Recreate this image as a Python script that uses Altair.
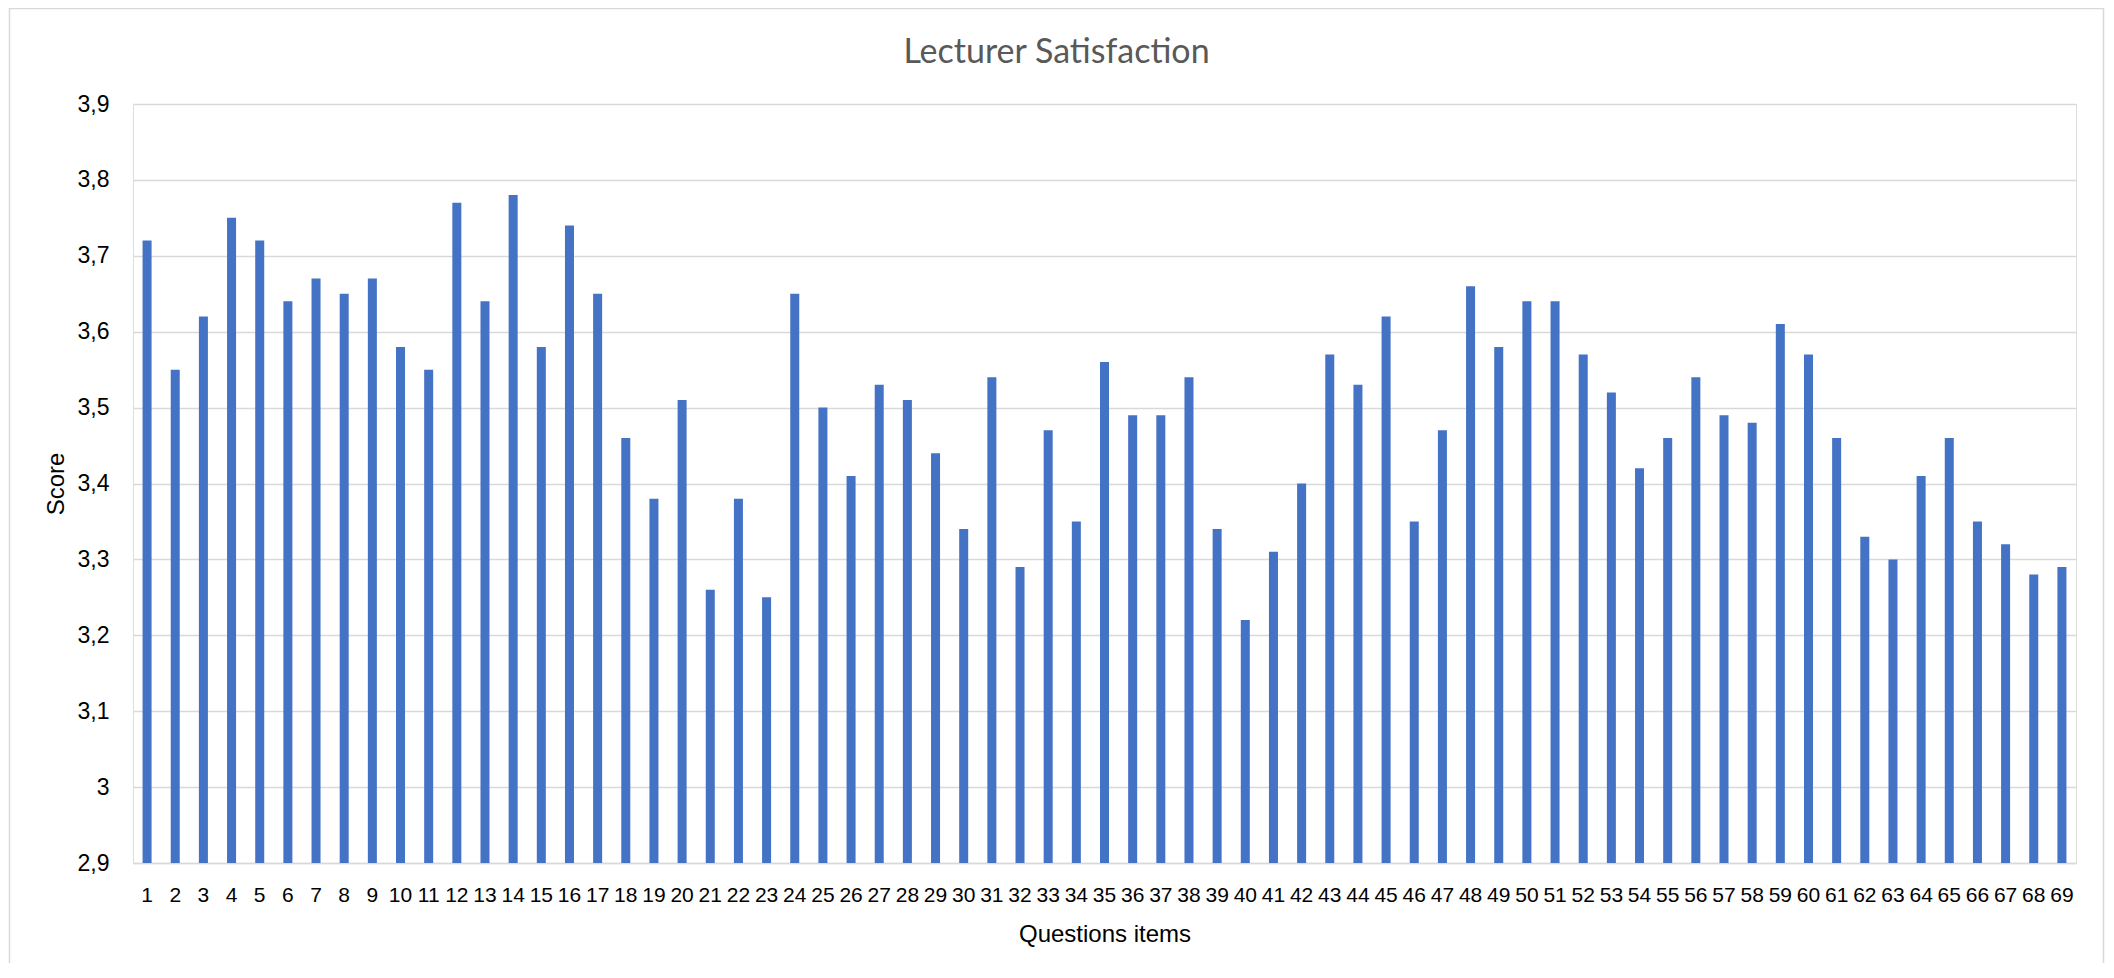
import altair as alt
import pandas as pd

# Question item numbers and their satisfaction scores
items = list(range(1, 70))
scores = [3.72, 3.55, 3.62, 3.75, 3.72, 3.64, 3.67, 3.65, 3.67, 3.58,
          3.55, 3.77, 3.64, 3.78, 3.58, 3.74, 3.65, 3.46, 3.38, 3.51,
          3.26, 3.38, 3.25, 3.65, 3.50, 3.41, 3.53, 3.51, 3.44, 3.34,
          3.54, 3.29, 3.47, 3.35, 3.56, 3.49, 3.49, 3.54, 3.34, 3.22,
          3.31, 3.40, 3.57, 3.53, 3.62, 3.35, 3.47, 3.66, 3.58, 3.64,
          3.64, 3.57, 3.52, 3.42, 3.46, 3.54, 3.49, 3.48, 3.61, 3.57,
          3.46, 3.33, 3.30, 3.41, 3.46, 3.35, 3.32, 3.28, 3.29]
y_ticks = [2.9, 3.0, 3.1, 3.2, 3.3, 3.4, 3.5, 3.6, 3.7, 3.8, 3.9]
y_min, y_max = 2.9, 3.9

df = pd.DataFrame({"item": items, "score": scores})

FONT = "Lato"
TXT = "#595959"
GRID = "#d9d9d9"
W, H = 1943, 759

bars = alt.Chart(df).mark_bar(color="#4472C4").encode(
    x=alt.X(
        "item:O",
        sort=items,
        scale=alt.Scale(paddingInner=0.68, paddingOuter=0.34),
        axis=alt.Axis(
            title="Questions items",
            labelAngle=0,
            labelFontSize=21,
            labelPadding=21,
            ticks=False,
            tickSize=0,
            grid=False,
            domain=True,
            domainColor=GRID,
            domainWidth=1.5,
            titleFontSize=24,
            titleFontWeight="normal",
            titleX=W / 2,
            titleY=71,
            titleAlign="center",
            titleBaseline="middle",
        ),
    ),
    y=alt.Y(
        "score:Q",
        scale=alt.Scale(domain=[y_min, y_max], zero=False, nice=False),
        axis=alt.Axis(
            title="Score",
            values=y_ticks,
            labelExpr="replace(format(datum.value, '.1~f'), '.', ',')",
            labelFontSize=23,
            labelPadding=24,
            ticks=False,
            tickSize=0,
            domain=False,
            grid=True,
            gridColor=GRID,
            gridWidth=1.5,
            titleFontSize=24,
            titleFontWeight="normal",
            titleX=-77,
            titleY=H / 2,
            titleAlign="center",
            titleBaseline="middle",
        ),
    ),
    y2=alt.datum(y_min),
)

frame = alt.Chart(alt.Data(values=[{"f": 1}])).mark_rect(
    fillOpacity=0, stroke=GRID, strokeWidth=1.5
).encode(
    x=alt.value(-123.5),
    x2=alt.value(1970.5),
    y=alt.value(-95.5),
    y2=alt.value(900),
)

chart = alt.layer(frame, bars).properties(
    width=W,
    height=H,
    title=alt.TitleParams(
        "Lecturer Satisfaction",
        font=FONT,
        fontSize=34,
        fontWeight="normal",
        color=TXT,
        anchor="middle",
        baseline="alphabetic",
        offset=-89,
        dx=-48,
    ),
    autosize=alt.AutoSizeParams(type="none"),
    padding={"left": 125, "top": 96, "right": 29, "bottom": 100},
).configure_axis(
    labelFont=FONT,
    titleFont=FONT,
    labelColor=TXT,
    titleColor=TXT,
).configure_view(stroke=None).configure(background="white")

chart.save("out.html", embed_options={"renderer": "svg", "actions": False})
